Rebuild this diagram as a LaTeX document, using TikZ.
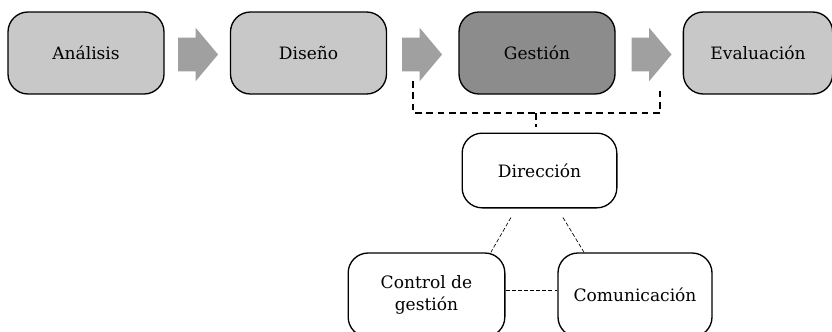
\documentclass[tikz,border=0pt]{standalone}
\usepackage{fontspec}
\setmainfont{DejaVu Serif}
\definecolor{stagegray}{RGB}{200, 200, 200}
\definecolor{activegray}{RGB}{140, 140, 140}
\definecolor{arrowgray}{RGB}{160, 160, 160}
\usetikzlibrary{shapes, shapes.arrows, arrows.meta, positioning, calc}

\tikzset{
  stagebox/.style={draw, line width=1pt, rounded corners=15pt, minimum width=117pt, minimum height=61.5pt, fill=stagegray, font=\fontsize{12.8}{16.5}\selectfont},
  partbox/.style={draw, line width=1pt, rounded corners=15pt, fill=white, align=center, font=\fontsize{12.8}{16.5}\selectfont},
  flowarrow/.style={single arrow, fill=arrowgray, draw=none, minimum height=30pt, inner xsep=0pt, inner ysep=12.4pt, single arrow head extend=7.5pt, single arrow tip angle=100},
  bracket/.style={line width=1.6pt, dash pattern=on 5pt off 3.5pt},
  link/.style={line width=0.5pt, dash pattern=on 3pt off 1.6pt}
}

\begin{document}
\begin{tikzpicture}[x=0.75pt, y=-0.75pt]
  \useasboundingbox (0,0) rectangle (832,332);

  % top row
  \node[stagebox] (ana) at (86, 53) {Análisis};
  \node[stagebox] (dis) at (308.5, 53) {Diseño};
  \node[stagebox, fill=activegray] (ges) at (537, 53) {Gestión};
  \node[stagebox, minimum width=112pt] (eva) at (758, 53) {Evaluación};

  \node[flowarrow] (a1) at (191, 54.5) {};
  \node[flowarrow] (a2) at (415, 54.5) {};
  \node[flowarrow] (a3) at (644.5, 54.5) {};

  % parts of Gestion
  \node[partbox, minimum width=116pt, minimum height=56pt] (dir) at (539.5, 170.5) {Dirección};
  \node[partbox, minimum width=117.5pt, minimum height=63pt] (ctrl) at (426.5, 295) {Control de\\gestión};
  \node[partbox, minimum width=115.5pt, minimum height=63pt] (com) at (635, 295) {Comunicación};

  % bracket
  \coordinate (bl) at (413, 81);
  \coordinate (br) at (660, 88);
  \coordinate (bm) at (536, 113);
  \draw[bracket] (bl) |- (bm) -| (br);
  \draw[bracket] (bm) -- ([yshift=4.5pt]bm |- dir.north);

  % links
  \draw[link] ([xshift=-21.4pt, yshift=-6.75pt]dir.south) -- ([xshift=-11pt]ctrl.north east);
  \draw[link] ([xshift=17.6pt, yshift=-6.75pt]dir.south) -- ([xshift=20pt]com.north west);
  \draw[link] ([yshift=3.75pt]ctrl.east) -- ([yshift=3.75pt]com.west);
\end{tikzpicture}
\end{document}
